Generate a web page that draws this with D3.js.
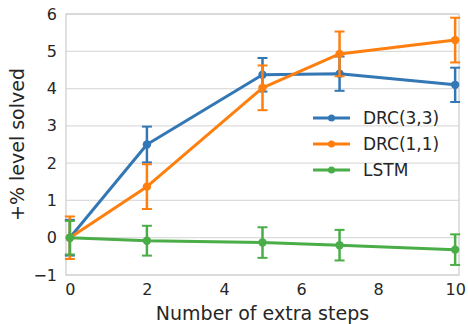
<!DOCTYPE html>
<html><head><meta charset="utf-8">
<script src="https://cdn.jsdelivr.net/npm/d3@7"></script>
<style>body{margin:0;background:#fff}svg{display:block}text{font-family:"DejaVu Sans",sans-serif;fill:#262626}</style>
</head><body><svg id="c" width="468" height="324"></svg>
<script>
const steps = [0, 2, 5, 7, 10];
const seriesNames = ["DRC(3,3)", "DRC(1,1)", "LSTM"];
const seriesColors = ["#3477b5", "#ff7f0e", "#4aad48"];
const drc33 = [0, 2.5, 4.37, 4.4, 4.1];
const drc33Err = [0.48, 0.48, 0.45, 0.46, 0.46];
const drc11 = [0, 1.37, 4.02, 4.93, 5.3];
const drc11Err = [0.57, 0.6, 0.6, 0.6, 0.6];
const lstm = [0, -0.08, -0.13, -0.2, -0.32];
const lstmErr = [0.45, 0.4, 0.41, 0.41, 0.41];
const xTicks = [0, 2, 4, 6, 8, 10];
const yTicks = [-1, 0, 1, 2, 3, 4, 5, 6];

const svg = d3.select("#c");
const L = 66, R = 459, T = 14, B = 275;
const x = d3.scaleLinear().domain([-0.1, 10.1]).range([L, R]);
const y = d3.scaleLinear().domain([-1, 6]).range([B, T]);

svg.append("g").selectAll("line").data(yTicks).join("line")
  .attr("x1", L).attr("x2", R).attr("y1", d => y(d)).attr("y2", d => y(d))
  .attr("stroke", "#dcdcdc").attr("stroke-width", 1.2);
svg.append("rect").attr("x", L).attr("y", T).attr("width", R - L).attr("height", B - T)
  .attr("fill", "none").attr("stroke", "#cfcfcf").attr("stroke-width", 1.3);

const xa = svg.append("g").attr("transform", `translate(0,${B})`)
  .call(d3.axisBottom(x).tickValues(xTicks).tickSize(0).tickPadding(9));
xa.select(".domain").remove();
xa.selectAll("text").attr("font-size", 16).style("font-family", "DejaVu Sans").attr("fill", "#262626");
const ya = svg.append("g").attr("transform", `translate(${L},0)`)
  .call(d3.axisLeft(y).tickValues(yTicks).tickSize(0).tickPadding(9).tickFormat(d => d < 0 ? "\u2212" + Math.abs(d) : d));
ya.select(".domain").remove();
ya.selectAll("text").attr("font-size", 16).style("font-family", "DejaVu Sans").attr("fill", "#262626");

svg.append("text").attr("x", (L + R) / 2).attr("y", 320).attr("text-anchor", "middle")
  .attr("font-size", 19).text("Number of extra steps");
svg.append("text").attr("transform", `translate(24,${(T + B) / 2}) rotate(-90)`).attr("text-anchor", "middle")
  .attr("font-size", 19).text("+% level solved");

const data = [[drc33, drc33Err], [drc11, drc11Err], [lstm, lstmErr]];
const line = d3.line().x(d => x(d.s)).y(d => y(d.v));
data.forEach(([vals, errs], i) => {
  const pts = steps.map((s, j) => ({ s, v: vals[j], e: errs[j] }));
  const g = svg.append("g");
  g.append("path").datum(pts).attr("d", line).attr("fill", "none")
    .attr("stroke", seriesColors[i]).attr("stroke-width", 3).attr("stroke-linejoin", "round");
  g.selectAll(".eb").data(pts).join("line").attr("class", "eb")
    .attr("x1", d => x(d.s)).attr("x2", d => x(d.s))
    .attr("y1", d => y(d.v - d.e)).attr("y2", d => y(d.v + d.e))
    .attr("stroke", seriesColors[i]).attr("stroke-width", 2.5);
  [["capLo", -1], ["capHi", 1]].forEach(([cls, sg]) => {
    g.selectAll("." + cls).data(pts).join("line").attr("class", cls)
      .attr("x1", d => x(d.s) - 5).attr("x2", d => x(d.s) + 5)
      .attr("y1", d => y(d.v + sg * d.e)).attr("y2", d => y(d.v + sg * d.e))
      .attr("stroke", seriesColors[i]).attr("stroke-width", 2);
  });
  g.selectAll("circle").data(pts).join("circle").attr("cx", d => x(d.s)).attr("cy", d => y(d.v))
    .attr("r", 4.2).attr("fill", seriesColors[i]);
});

const lg = svg.append("g");
seriesNames.forEach((n, i) => {
  const yy = 118 + i * 26;
  lg.append("line").attr("x1", 313).attr("x2", 350).attr("y1", yy).attr("y2", yy)
    .attr("stroke", seriesColors[i]).attr("stroke-width", 3);
  lg.append("circle").attr("cx", 331.5).attr("cy", yy).attr("r", 3.5).attr("fill", seriesColors[i]);
  lg.append("text").attr("x", 363).attr("y", yy + 6).attr("font-size", 17).text(n);
});
</script></body></html>
